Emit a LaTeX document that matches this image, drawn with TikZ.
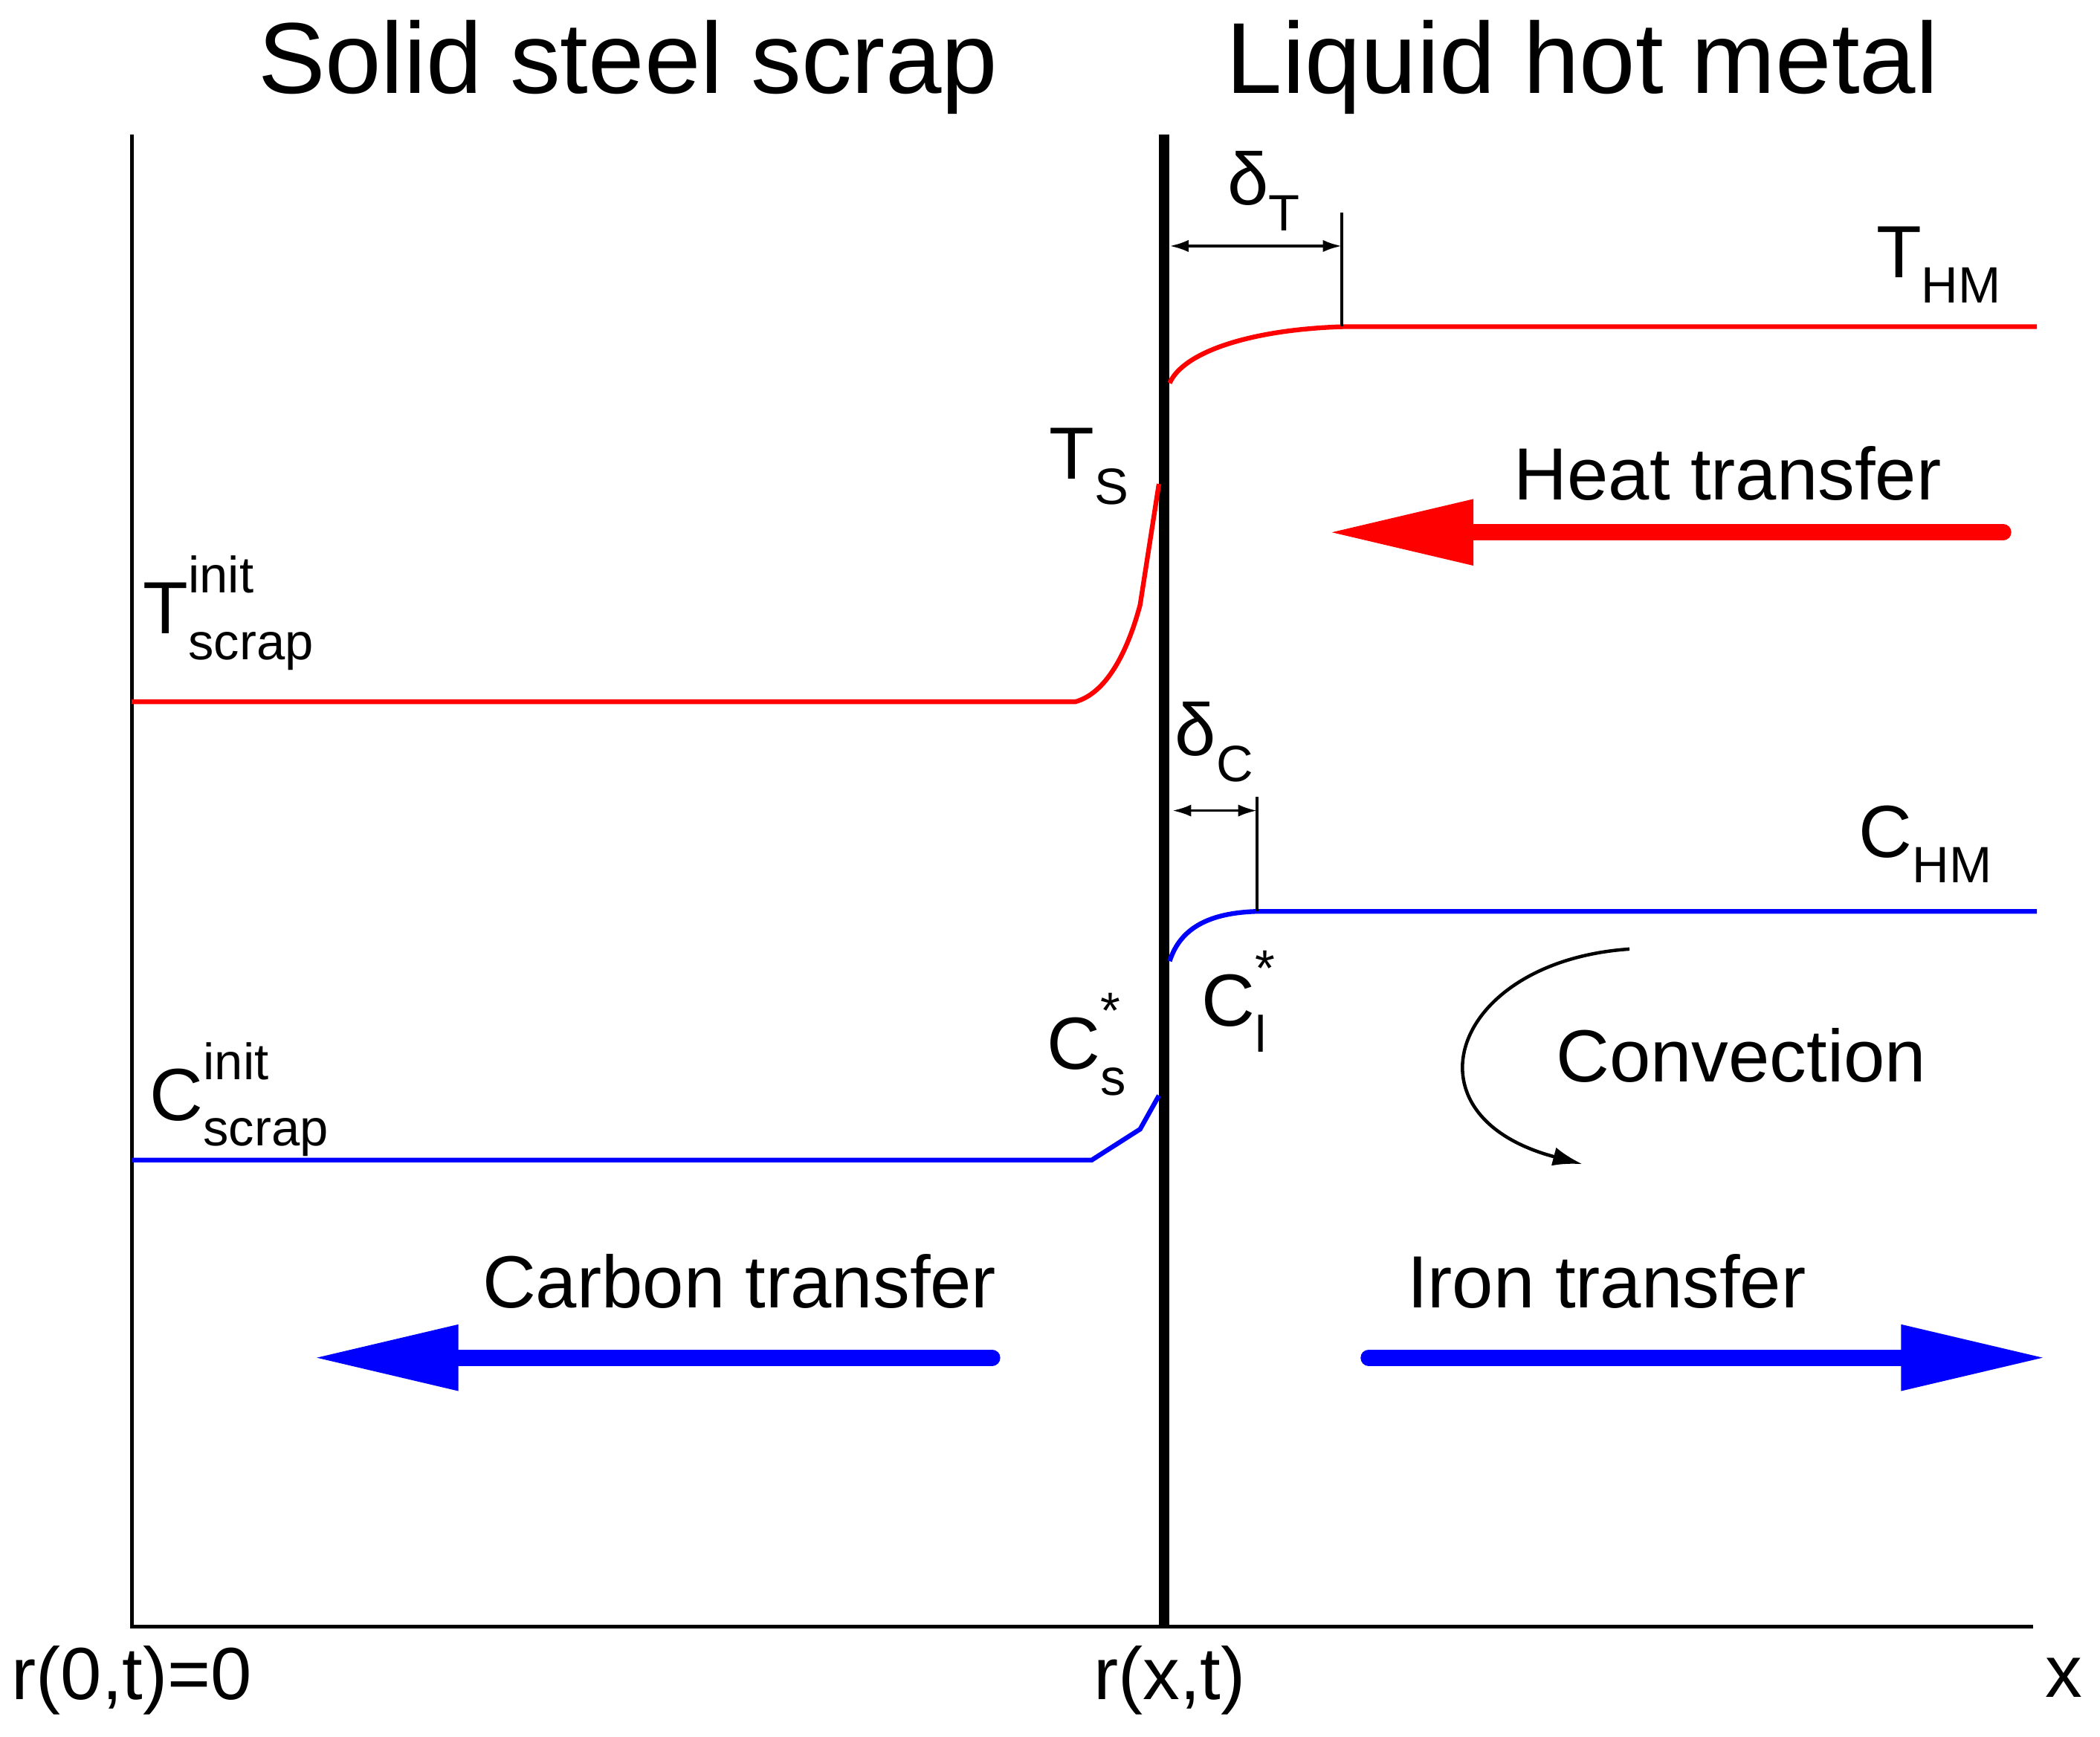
\documentclass[tikz,border=0pt]{standalone}
\usepackage{fontspec}
\setmainfont{Liberation Sans}
\usetikzlibrary{arrows.meta}
\newcommand\lsub[1]{\raisebox{-0.35em}{\fontsize{38}{38}\selectfont #1}}
\newcommand\lsup[1]{\raisebox{0.55em}{\fontsize{38}{38}\selectfont #1}}
\newcommand\supsub[2]{\rlap{\lsup{#1}}\lsub{#2}}
\begin{document}
\begin{tikzpicture}[x=1pt,y=-1pt,
  big/.style={font=\fontsize{75}{75}\selectfont},
  lab/.style={font=\fontsize{55}{55}\selectfont},
  redc/.style={draw=red,line width=3.5pt},
  bluec/.style={draw=blue,line width=3.5pt},
  dim/.style={line width=2pt,{Latex[length=14pt,width=9pt]}-{Latex[length=14pt,width=9pt]}},
  tick/.style={line width=2pt}]
\useasboundingbox (0,0) rectangle (1562,1292);
\node[big] (t1) at (467,50) {Solid steel scrap};
\node[big] (t2) at (1177,50) {Liquid hot metal};
% axes
\coordinate (o) at (98,1210);
\draw[line width=2.5pt] (98,100) -- (o) -- (1512,1210);
\draw[line width=8pt] (866,100) -- (866,1210);
% red temperature curve
\draw[redc] (98,522) -- (800,522) .. controls (825,515) and (840,480) .. (848,450) -- (862,360);
\draw[redc] (870,285) .. controls (880,262) and (930,245) .. (1000,243) -- (1515,243);
\coordinate (dt1) at (870,183); \coordinate (dt2) at (998,183);
\draw[tick] (998,158) -- (998,243);
\draw[dim] (dt1) -- (dt2);
\node[lab] (dT) at (940,142) {δ\lsub{T}};
\node[lab] (THM) at (1442,197) {T\lsub{HM}};
\node[lab] (TS) at (810,347) {T\lsub{S}};
\node[lab,anchor=west] (Tin) at (103,456) {T\supsub{init}{scrap}};
\node[lab] (heat) at (1285,352) {Heat transfer};
\coordinate (ha) at (1490,396); \coordinate (hb) at (988,396);
\draw[red,line width=12pt,line cap=round,-{Triangle[length=108pt,width=46pt]}] (ha) -- (hb);
% blue concentration curve
\draw[bluec] (98,863) -- (812,863) -- (848,840) -- (862,815);
\draw[bluec] (870,715) .. controls (878,690) and (900,679) .. (935,678) -- (1515,678);
\coordinate (dc1) at (872,603); \coordinate (dc2) at (935,603);
\draw[tick] (935,593) -- (935,678);
\draw[dim] (dc1) -- (dc2);
\node[lab] (dC) at (903,552) {δ\lsub{C}};
\node[lab] (CHM) at (1432,628) {C\lsub{HM}};
\node[lab] (Cl) at (918,745) {C\supsub{*}{l}};
\node[lab] (Cs) at (808,777) {C\supsub{*}{s}};
\node[lab,anchor=west] (Cin) at (108,818) {C\supsub{init}{scrap}};
\node[lab] (conv) at (1295,785) {Convection};
\coordinate (ca) at (1212,706); \coordinate (cb) at (1177,866);
\draw[line width=2.5pt,-{Latex[length=22pt,width=14pt]}] (ca) .. controls (1080,715) and (1040,830) .. (cb);
\node[lab] (carb) at (550,953) {Carbon transfer};
\coordinate (c1) at (738,1010); \coordinate (c2) at (233,1010);
\draw[blue,line width=12pt,line cap=round,-{Triangle[length=108pt,width=46pt]}] (c1) -- (c2);
\node[lab] (iron) at (1195,953) {Iron transfer};
\coordinate (i1) at (1018,1010); \coordinate (i2) at (1522,1010);
\draw[blue,line width=12pt,line cap=round,-{Triangle[length=108pt,width=46pt]}] (i1) -- (i2);
\node[lab] (r0) at (98,1250) {r(0,t)=0};
\node[lab] (rx) at (870,1250) {r(x,t)};
\node[lab] (x) at (1535,1248) {x};
\end{tikzpicture}
\end{document}
